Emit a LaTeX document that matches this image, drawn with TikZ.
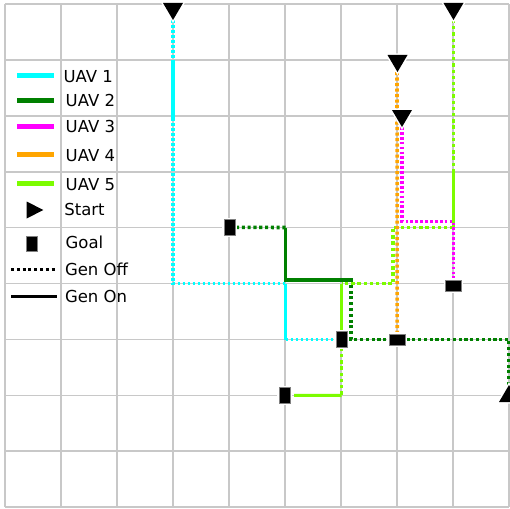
\documentclass[tikz,border=0pt]{standalone}
\usepackage{fontspec}
\setmainfont{DejaVu Sans}
\definecolor{uavA}{RGB}{0,255,255}
\definecolor{uavB}{RGB}{0,128,0}
\definecolor{uavC}{RGB}{255,0,255}
\definecolor{uavD}{RGB}{255,165,0}
\definecolor{uavE}{RGB}{124,252,0}
\definecolor{gridgray}{RGB}{200,200,200}
\pgfdeclarelayer{gridlayer}
\pgfdeclarelayer{routes}
\pgfsetlayers{gridlayer,routes,main}

\begin{document}
\begin{tikzpicture}[x=1pt,y=-1pt,line join=miter,
  gridline/.style={draw=gridgray,line width=1.6pt},
  genon/.style={line width=3.3pt},
  genoff/.style={line width=3.6pt,dash pattern=on 3.2pt off 2.5pt},
  startmark/.style={fill=black,preaction={draw=white,line width=3pt}},
  goalv/.style={rectangle,inner sep=0pt,minimum width=11pt,minimum height=16pt,
    fill=black,draw=gray,line width=0.6pt,preaction={draw=white,line width=3.5pt}},
  goalh/.style={goalv,minimum width=16pt,minimum height=11pt},
  legtext/.style={anchor=base west,inner sep=0pt,font=\fontsize{16.5}{18}\selectfont},
  legline/.style={line width=5pt},
  pics/startdown/.style={code={\path[startmark] (-10,-8.5) -- (10,-8.5) -- (0,8.5) -- cycle;}},
  pics/startup/.style={code={\path[startmark] (-10,8.5) -- (10,8.5) -- (0,-8.5) -- cycle;}},
  pics/startright/.style={code={\path[startmark] (-8.3,-8.5) -- (-8.3,8.5) -- (8.3,0) -- cycle;}},
]
\useasboundingbox (0,0) rectangle (510,508);
\clip (0,0) rectangle (510,508);

% grid of the map
\begin{pgfonlayer}{gridlayer}
\fill[white] (0,0) rectangle (510,508);
\foreach \i in {0,...,9}{
  \draw[gridline] ({5+56*\i},4) -- ({5+56*\i},507);
  \draw[gridline] (5,{4+55.9*\i}) -- (509,{4+55.9*\i});
}
\end{pgfonlayer}

% goal markers
\node[goalv] (g1) at (341.5,339.5) {};
\node[goalv] (g2) at (229.7,227.3) {};
\node[goalh] (g3) at (453.5,285.3) {};
\node[goalh] (g4) at (397.2,339.5) {};
\node[goalv] (g5) at (284.7,395.3) {};

\begin{pgfonlayer}{routes}
% UAV 5 route
\coordinate (e0) at (453.5,20);
\coordinate (e1) at (453.5,172);
\coordinate (e2) at (453.5,227.5);
\coordinate (e3) at (393,227.5);
\coordinate (e4) at (393,283.5);
\coordinate (e5) at (341.5,283.5);
\coordinate (e6) at (341.5,395.5);
\draw[uavE,genoff,dash pattern=on 3.3pt off 2.9pt] (e0) -- (e1);
\draw[uavE,genon,line width=3pt] (e1) -- (e2);
\draw[uavE,genoff,line width=3.2pt,dash pattern=on 3.3pt off 2.9pt] (e2) -- (e3) -- (e4) -- (e5);
\draw[uavE,genon,line width=3pt] (e5) -- (g1.north);
\draw[uavE,genoff,line width=3.2pt,dash pattern=on 3.3pt off 2.9pt] (g1.south) -- (e6);
\draw[uavE,genon,line width=3pt,shorten >=3.5pt] (e6) -- (g5.east);

% UAV 4 route
\coordinate (d0) at (397,72);
\draw[uavD,genoff,dash pattern=on 3.1pt off 2.4pt] (d0) -- (g4.north);

% UAV 3 route
\coordinate (c0) at (402,127);
\coordinate (c1) at (402,221.5);
\coordinate (c2) at (453.5,221.5);
\draw[uavC,genoff,line width=3.2pt,dash pattern=on 2.7pt off 2.2pt] (c0) -- (c1) -- (c2) -- (g3.north);

% UAV 2 route
\coordinate (b0) at (509,385);
\coordinate (b1) at (509,339.5);
\coordinate (b2) at (351,339.5);
\coordinate (b3) at (351,280);
\coordinate (b4) at (352.7,280);
\coordinate (b5) at (285.5,280);
\coordinate (b6) at (285.5,227.5);
\draw[uavB,genoff,dash pattern=on 3.1pt off 2.7pt] (b0) -- (b1) -- (b2) -- (b3);
\draw[uavB,genon] (b4) -- (b5) -- (b6);
\draw[uavB,genoff,dash pattern=on 3.1pt off 2.7pt] (b6) -- (g2.east);

% UAV 1 route
\coordinate (a0) at (173,20);
\coordinate (a1) at (173,60);
\coordinate (a2) at (173,118);
\coordinate (a3) at (173,283.5);
\coordinate (a4) at (285.5,283.5);
\coordinate (a5) at (285.5,339.5);
\draw[uavA,genoff,dash pattern=on 2.9pt off 2.1pt] (a0) -- (a1);
\draw[uavA,genon,line width=3.2pt] (a1) -- (a2);
\draw[uavA,genoff,dash pattern=on 2.9pt off 2.1pt] (a2) -- (a3) -- (a4);
\draw[uavA,genon,line width=3.2pt] (a4) -- (a5);
\draw[uavA,genoff,dash pattern=on 2.9pt off 2.1pt] (a5) -- (g1.west);
\end{pgfonlayer}

% start markers
\pic (t1) at (173,11.5) {startdown};
\pic (t2) at (509,393.5) {startup};
\pic (t3) at (402,118.5) {startdown};
\pic (t4) at (397.5,63.5) {startdown};
\pic (t5) at (453.5,11.5) {startdown};

% legend
\coordinate (l1a) at (17,76);    \coordinate (l1b) at (54.3,76);
\coordinate (l2a) at (17,100.3); \coordinate (l2b) at (54.3,100.3);
\coordinate (l3a) at (17,126.5); \coordinate (l3b) at (54.3,126.5);
\coordinate (l4a) at (17,154.8); \coordinate (l4b) at (54.3,154.8);
\coordinate (l5a) at (17,183.5); \coordinate (l5b) at (54.3,183.5);
\coordinate (l8a) at (11,269);   \coordinate (l8b) at (57.3,269);
\coordinate (l9a) at (11,296);   \coordinate (l9b) at (57.3,296);
\draw[legline,uavA] (l1a) -- (l1b);
\draw[legline,uavB] (l2a) -- (l2b);
\draw[legline,uavC] (l3a) -- (l3b);
\draw[legline,uavD] (l4a) -- (l4b);
\draw[legline,uavE] (l5a) -- (l5b);
\pic (lst) at (35,210) {startright};
\node[goalv,minimum height=15pt,preaction={}] (lgoal) at (32.2,243.5) {};
\draw[black,genoff,line width=3pt,dash pattern=on 3pt off 2.8pt] (l8a) -- (l8b);
\draw[black,genon,line width=3pt] (l9a) -- (l9b);

\node[legtext] (n1) at (63.3,82.7) {UAV 1};
\node[legtext] (n2) at (65.5,106.7) {UAV 2};
\node[legtext] (n3) at (65.5,132.3) {UAV 3};
\node[legtext] (n4) at (65.5,161) {UAV 4};
\node[legtext] (n5) at (65.5,190) {UAV 5};
\node[legtext] (n6) at (64.2,215.3) {Start};
\node[legtext] (n7) at (65.5,248.7) {Goal};
\node[legtext] (n8) at (64.8,275) {Gen Off};
\node[legtext] (n9) at (64.8,302) {Gen On};
\end{tikzpicture}
\end{document}
